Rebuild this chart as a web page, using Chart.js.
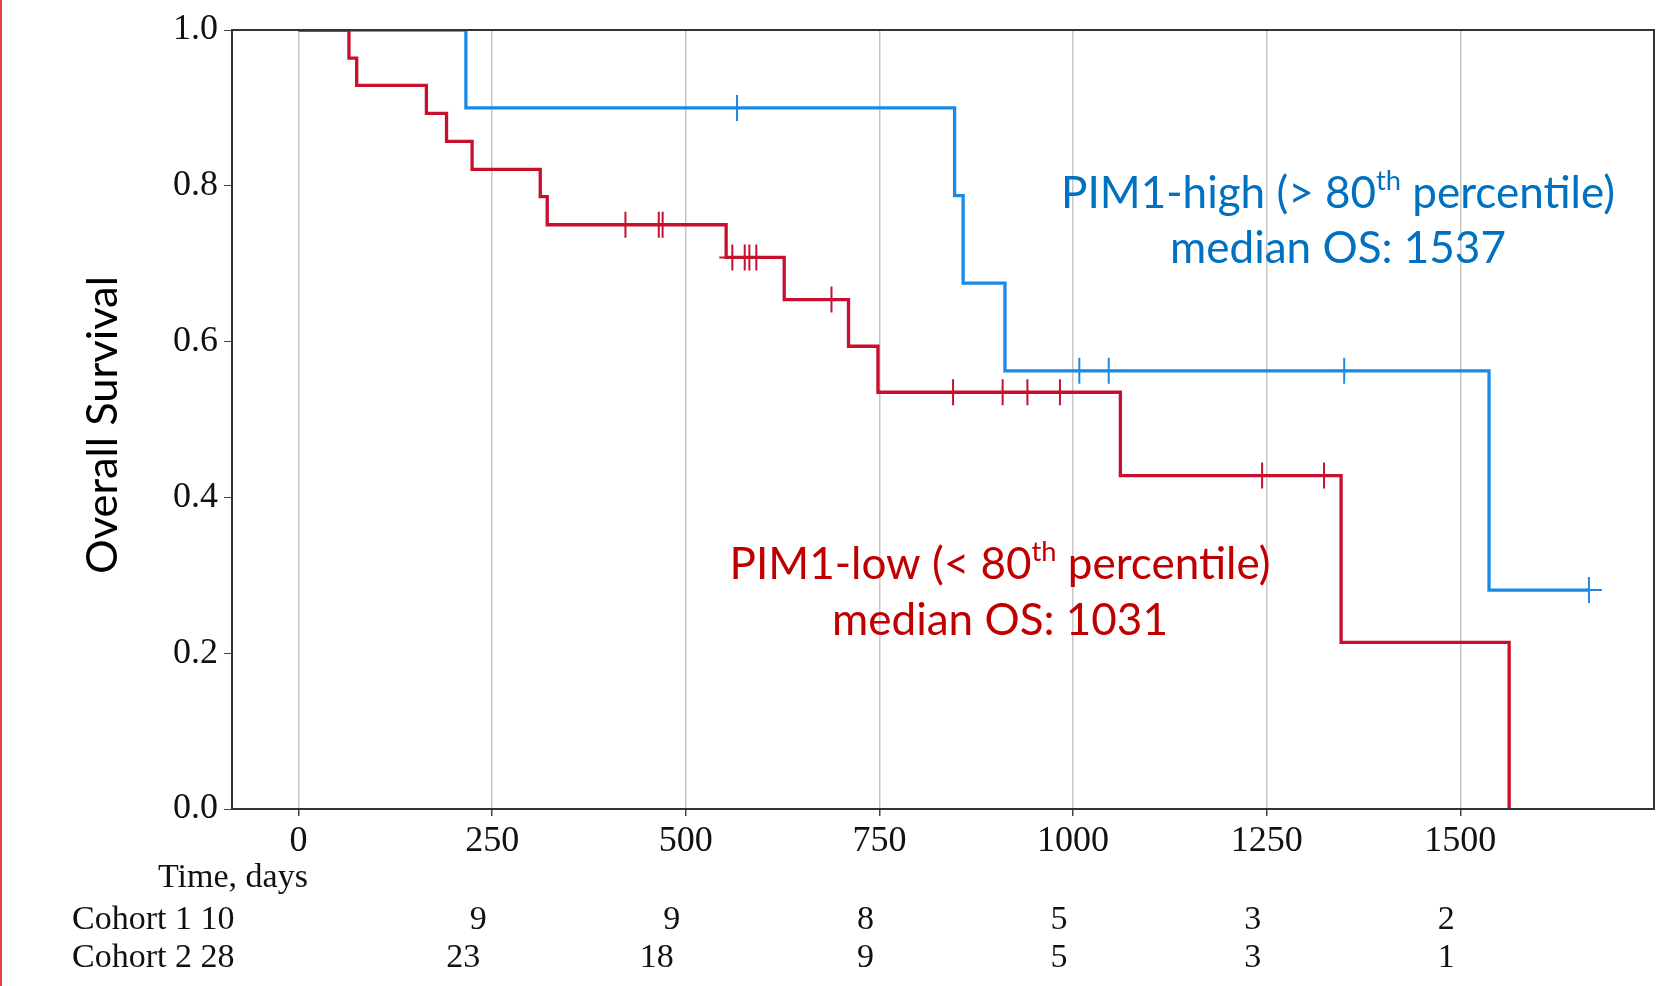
<!DOCTYPE html>
<html>
<head>
<meta charset="utf-8">
<script src="https://cdn.jsdelivr.net/npm/chart.js@4/dist/chart.umd.min.js"></script>
<style>
  html, body { margin: 0; padding: 0; background: #fff; }
  canvas { display: block; }
</style>
</head>
<body>
<canvas id="km" width="1670" height="986"></canvas>
<script>
// axis ticks
const xTicks = [0, 250, 500, 750, 1000, 1250, 1500];
const yTicks = [0, 0.2, 0.4, 0.6, 0.8, 1.0];

// PIM1-high curve (cohort 1)
const highTimes = [0, 216, 847, 858, 912, 1537, 1666];
const highSurv = [1, 0.9, 0.7875, 0.675, 0.5625, 0.281, 0.281];
const highCensorTimes = [566, 1008, 1046, 1350, 1666];
const highCensorSurv = [0.9, 0.5625, 0.5625, 0.5625, 0.281];

// PIM1-low curve (cohort 2)
const lowTimes = [0, 65, 75, 165, 191, 224, 312, 321, 552, 627, 710, 748, 1061, 1346, 1563];
const lowSurv = [1, 0.964, 0.929, 0.893, 0.857, 0.821, 0.786, 0.75, 0.708, 0.654, 0.594, 0.535, 0.428, 0.214, 0];
const lowCensorTimes = [422, 465, 470, 560, 576, 582, 591, 688, 845, 909, 941, 983, 1244, 1324];
const lowCensorSurv = [0.75, 0.75, 0.75, 0.708, 0.708, 0.708, 0.708, 0.654, 0.535, 0.535, 0.535, 0.535, 0.428, 0.428];

// number at risk table
const riskTicks = [250, 500, 750, 1000, 1250, 1500];
const cohort1Start = 10;
const cohort1AtRisk = [9, 9, 8, 5, 3, 2];
const cohort2Start = 28;
const cohort2AtRisk = [23, 18, 9, 5, 3, 1];

const BLUE = "#1b8ae6";
const RED = "#c8102e";
const SERIF = '"Liberation Serif", "Times New Roman", serif';
const SANS = 'Lato, "Open Sans", sans-serif';

const pts = (xs, ys) => xs.map((x, i) => ({ x, y: ys[i] }));

// fit a font size so text has a given width
function fitSize(ctx, text, family, width) {
  ctx.font = `100px ${family}`;
  return 100 * width / ctx.measureText(text).width;
}

// draw a centred line with a superscript part
function drawSupLine(ctx, parts, cx, cy, size, color) {
  ctx.fillStyle = color;
  ctx.textBaseline = "middle";
  ctx.textAlign = "left";
  let total = 0;
  parts.forEach(p => {
    ctx.font = `${p.sup ? size * 0.62 : size}px ${SANS}`;
    p.w = ctx.measureText(p.t).width;
    total += p.w;
  });
  let x = cx - total / 2;
  parts.forEach(p => {
    ctx.font = `${p.sup ? size * 0.62 : size}px ${SANS}`;
    ctx.fillText(p.t, x, p.sup ? cy - size * 0.3 : cy);
    x += p.w;
  });
}

const decor = {
  id: "decor",
  beforeDraw(chart) {
    const ctx = chart.ctx;
    ctx.save();
    ctx.fillStyle = "#fff";
    ctx.fillRect(0, 0, chart.width, chart.height);
    ctx.restore();
  },
  afterDraw(chart) {
    const { ctx, chartArea: a, scales } = chart;
    ctx.save();
    // frame
    ctx.strokeStyle = "#333";
    ctx.lineWidth = 2;
    ctx.strokeRect(a.left, a.top, a.right - a.left, a.bottom - a.top);
    // red edge line on the left of the picture
    ctx.fillStyle = "#e8404a";
    ctx.fillRect(0, 0, 2, chart.height);

    // y title
    const ySize = fitSize(ctx, "Overall Survival", SANS, 298);
    ctx.save();
    ctx.translate(103, 425);
    ctx.rotate(-Math.PI / 2);
    ctx.font = `${ySize}px ${SANS}`;
    ctx.fillStyle = "#000";
    ctx.textAlign = "center";
    ctx.textBaseline = "middle";
    ctx.fillText("Overall Survival", 0, 0);
    ctx.restore();

    // group annotations
    const aSize = fitSize(ctx, "median OS: 1537", SANS, 336);
    drawSupLine(ctx, [{ t: "PIM1-high (> 80" }, { t: "th", sup: true }, { t: " percentile)" }], 1338, 194, aSize, "#0070c0");
    drawSupLine(ctx, [{ t: "median OS: 1537" }], 1338, 249, aSize, "#0070c0");
    drawSupLine(ctx, [{ t: "PIM1-low (< 80" }, { t: "th", sup: true }, { t: " percentile)" }], 1000, 565, aSize, "#c00000");
    drawSupLine(ctx, [{ t: "median OS: 1031" }], 1000, 621, aSize, "#c00000");

    // at risk table
    ctx.font = `34px ${SERIF}`;
    ctx.fillStyle = "#111";
    ctx.textBaseline = "middle";
    ctx.textAlign = "left";
    ctx.fillText("Time, days", 158, 878);
    ctx.fillText(`Cohort 1 ${cohort1Start}`, 72, 920);
    ctx.fillText(`Cohort 2 ${cohort2Start}`, 72, 958);
    ctx.textAlign = "center";
    riskTicks.forEach((t, i) => {
      const px = scales.x.getPixelForValue(t);
      const a1 = String(cohort1AtRisk[i]), a2 = String(cohort2AtRisk[i]);
      ctx.fillText(a1, px - 14 - (a1.length - 1) * 15, 920);
      ctx.fillText(a2, px - 14 - (a2.length - 1) * 15, 958);
    });
    ctx.restore();
  }
};

new Chart(document.getElementById("km"), {
  type: "scatter",
  data: {
    datasets: [
      {
        data: pts(lowTimes, lowSurv), showLine: true, stepped: true,
        borderColor: RED, borderWidth: 3.3, pointRadius: 0, fill: false
      },
      {
        data: pts(lowCensorTimes, lowCensorSurv), showLine: false,
        pointStyle: "cross", pointRadius: 13, borderColor: RED, pointBorderWidth: 2
      },
      {
        data: pts(highTimes, highSurv), showLine: true, stepped: true,
        borderColor: BLUE, borderWidth: 3.3, pointRadius: 0, fill: false
      },
      {
        data: pts(highCensorTimes, highCensorSurv), showLine: false,
        pointStyle: "cross", pointRadius: 13, borderColor: BLUE, pointBorderWidth: 2
      }
    ]
  },
  options: {
    responsive: false,
    animation: false,
    devicePixelRatio: 1,
    layout: { padding: { top: 30, right: 16, left: 0, bottom: 0 } },
    plugins: { legend: { display: false }, tooltip: { enabled: false } },
    scales: {
      x: {
        type: "linear",
        min: -86,
        max: 1750,
        afterBuildTicks: s => { s.ticks = xTicks.map(v => ({ value: v })); },
        afterFit: s => { s.height = 177; },
        grid: { color: "#c6c6c6", lineWidth: 1.5, tickColor: "#444", tickLength: 7, drawTicks: true },
        border: { color: "#333", width: 2 },
        ticks: { color: "#111", font: { family: SERIF, size: 36 }, padding: 4, maxRotation: 0, callback: v => String(v) }
      },
      y: {
        min: 0,
        max: 1,
        afterBuildTicks: s => { s.ticks = yTicks.map(v => ({ value: v })); },
        afterFit: s => { s.width = 232; },
        grid: { drawOnChartArea: false, tickColor: "#444", tickLength: 8 },
        border: { color: "#333", width: 2 },
        ticks: { color: "#111", font: { family: SERIF, size: 36 }, padding: 6, callback: v => v.toFixed(1) }
      }
    }
  },
  plugins: [decor]
});
</script>
</body>
</html>
